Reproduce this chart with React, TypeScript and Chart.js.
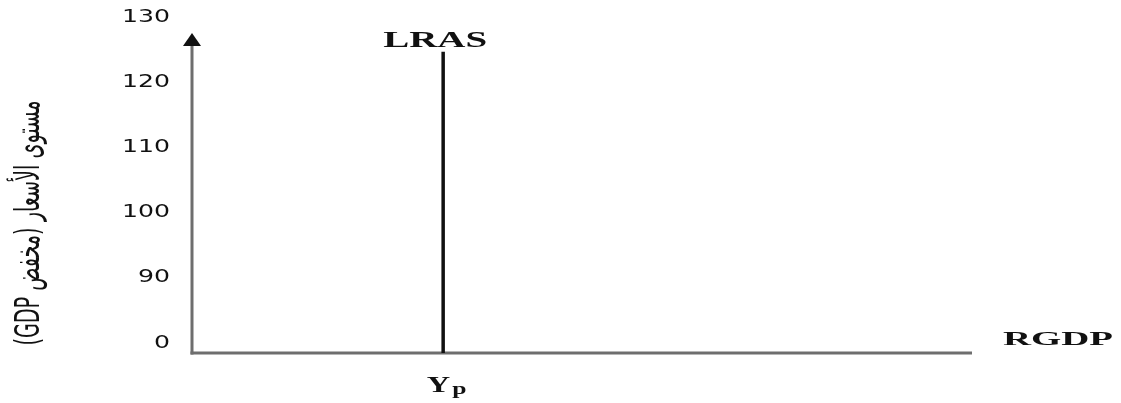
import React, { useEffect, useRef } from "react";
import { Chart, registerables } from "chart.js";

Chart.register(...registerables);

// ---- data ----
const PRICE_TICKS = ["0", "90", "100", "110", "120", "130"];
const YP = 32.2;
const LRAS_TOP = 4.62;
const LRAS_X = [YP, YP];
const LRAS_Y = [0, LRAS_TOP];
const X_MAX = 100;
const Y_TITLE = "مستوى الأسعار (مخفض GDP)";
const X_TITLE = "RGDP";
const CURVE_LABEL = "LRAS";
const YP_MAIN = "Y";
const YP_SUB = "p";

const AXIS_COLOR = "#6e6e6e";
const INK = "#111111";

function drawStretched(
  ctx: CanvasRenderingContext2D,
  text: string,
  x: number,
  y: number,
  font: string,
  sx: number,
  align: CanvasTextAlign,
  baseline: CanvasTextBaseline = "alphabetic"
) {
  ctx.save();
  ctx.font = font;
  ctx.textAlign = align;
  ctx.textBaseline = baseline;
  ctx.translate(x, y);
  ctx.scale(sx, 1);
  ctx.fillText(text, 0, 0);
  ctx.restore();
}

function fitScale(ctx: CanvasRenderingContext2D, text: string, font: string, width: number) {
  ctx.save();
  ctx.font = font;
  const w = ctx.measureText(text).width;
  ctx.restore();
  return w > 0 ? width / w : 1;
}

const econPlugin = {
  id: "econ",
  beforeDatasetsDraw(chart: any) {
    const { ctx, chartArea } = chart;
    const { left, right, top, bottom } = chartArea;
    ctx.save();
    ctx.strokeStyle = AXIS_COLOR;
    ctx.lineWidth = 3;
    ctx.beginPath();
    ctx.moveTo(left, bottom + 1.5);
    ctx.lineTo(left, top + 16);
    ctx.stroke();
    ctx.beginPath();
    ctx.moveTo(left - 1.5, bottom);
    ctx.lineTo(right, bottom);
    ctx.stroke();
    // arrow head
    ctx.fillStyle = INK;
    ctx.beginPath();
    ctx.moveTo(left, top + 6);
    ctx.lineTo(left - 9, top + 19);
    ctx.lineTo(left + 9, top + 19);
    ctx.closePath();
    ctx.fill();
    ctx.restore();
  },
  afterDraw(chart: any) {
    const { ctx, chartArea } = chart;
    const yScale = chart.scales.y;
    const xScale = chart.scales.x;
    ctx.save();
    ctx.fillStyle = INK;

    // y tick labels
    PRICE_TICKS.forEach((lab, i) => {
      const py = yScale.getPixelForValue(i);
      drawStretched(ctx, lab, chartArea.left - 22, py - 5.5, "17px 'DejaVu Sans'", 1.48, "right");
    });

    const lx = xScale.getPixelForValue(YP);

    // LRAS label
    const lf = "bold 23px 'Liberation Serif'";
    drawStretched(ctx, CURVE_LABEL, lx - 8, 47, lf, fitScale(ctx, CURVE_LABEL, lf, 104), "center");

    // Yp label
    const yf = "bold 24px 'Liberation Serif'";
    drawStretched(ctx, YP_MAIN, lx + 7, 392, yf, 1.35, "right");
    const pf = "bold 16px 'Liberation Serif'";
    drawStretched(ctx, YP_SUB, lx + 9, 394, pf, 1.6, "left");

    // RGDP
    const rf = "bold 19px 'Liberation Serif'";
    drawStretched(ctx, X_TITLE, chartArea.right + 31, 345, rf, fitScale(ctx, X_TITLE, rf, 110), "left");

    // Arabic y title
    const af = "17px 'DejaVu Sans'";
    ctx.save();
    ctx.font = af;
    ctx.direction = "rtl";
    const aw = ctx.measureText(Y_TITLE).width;
    ctx.translate(30, 223);
    ctx.scale(2.0, 1);
    ctx.rotate(-Math.PI / 2);
    ctx.scale(245 / aw, 1);
    ctx.textAlign = "center";
    ctx.textBaseline = "middle";
    ctx.fillText(Y_TITLE, 0, 0);
    ctx.restore();

    ctx.restore();
  },
};

export default function App() {
  const ref = useRef<HTMLCanvasElement | null>(null);
  useEffect(() => {
    if (!ref.current) return;
    const chart = new Chart(ref.current, {
      type: "line",
      data: {
        datasets: [
          {
            label: CURVE_LABEL,
            data: LRAS_X.map((x, i) => ({ x, y: LRAS_Y[i] })),
            borderColor: INK,
            borderWidth: 3.5,
            pointRadius: 0,
            fill: false,
          },
        ],
      },
      options: {
        animation: false,
        responsive: true,
        maintainAspectRatio: false,
        layout: { padding: { left: 192, right: 149, top: 27, bottom: 50 } },
        plugins: { legend: { display: false }, tooltip: { enabled: false } },
        scales: {
          x: { type: "linear", min: 0, max: X_MAX, display: false },
          y: { type: "linear", min: 0, max: PRICE_TICKS.length - 1, display: false },
        },
      },
      plugins: [econPlugin],
    });
    return () => chart.destroy();
  }, []);
  return (
    <div style={{ position: "absolute", left: 0, top: 0, width: 1121, height: 403, background: "#fff" }}>
      <canvas ref={ref} />
    </div>
  );
}
